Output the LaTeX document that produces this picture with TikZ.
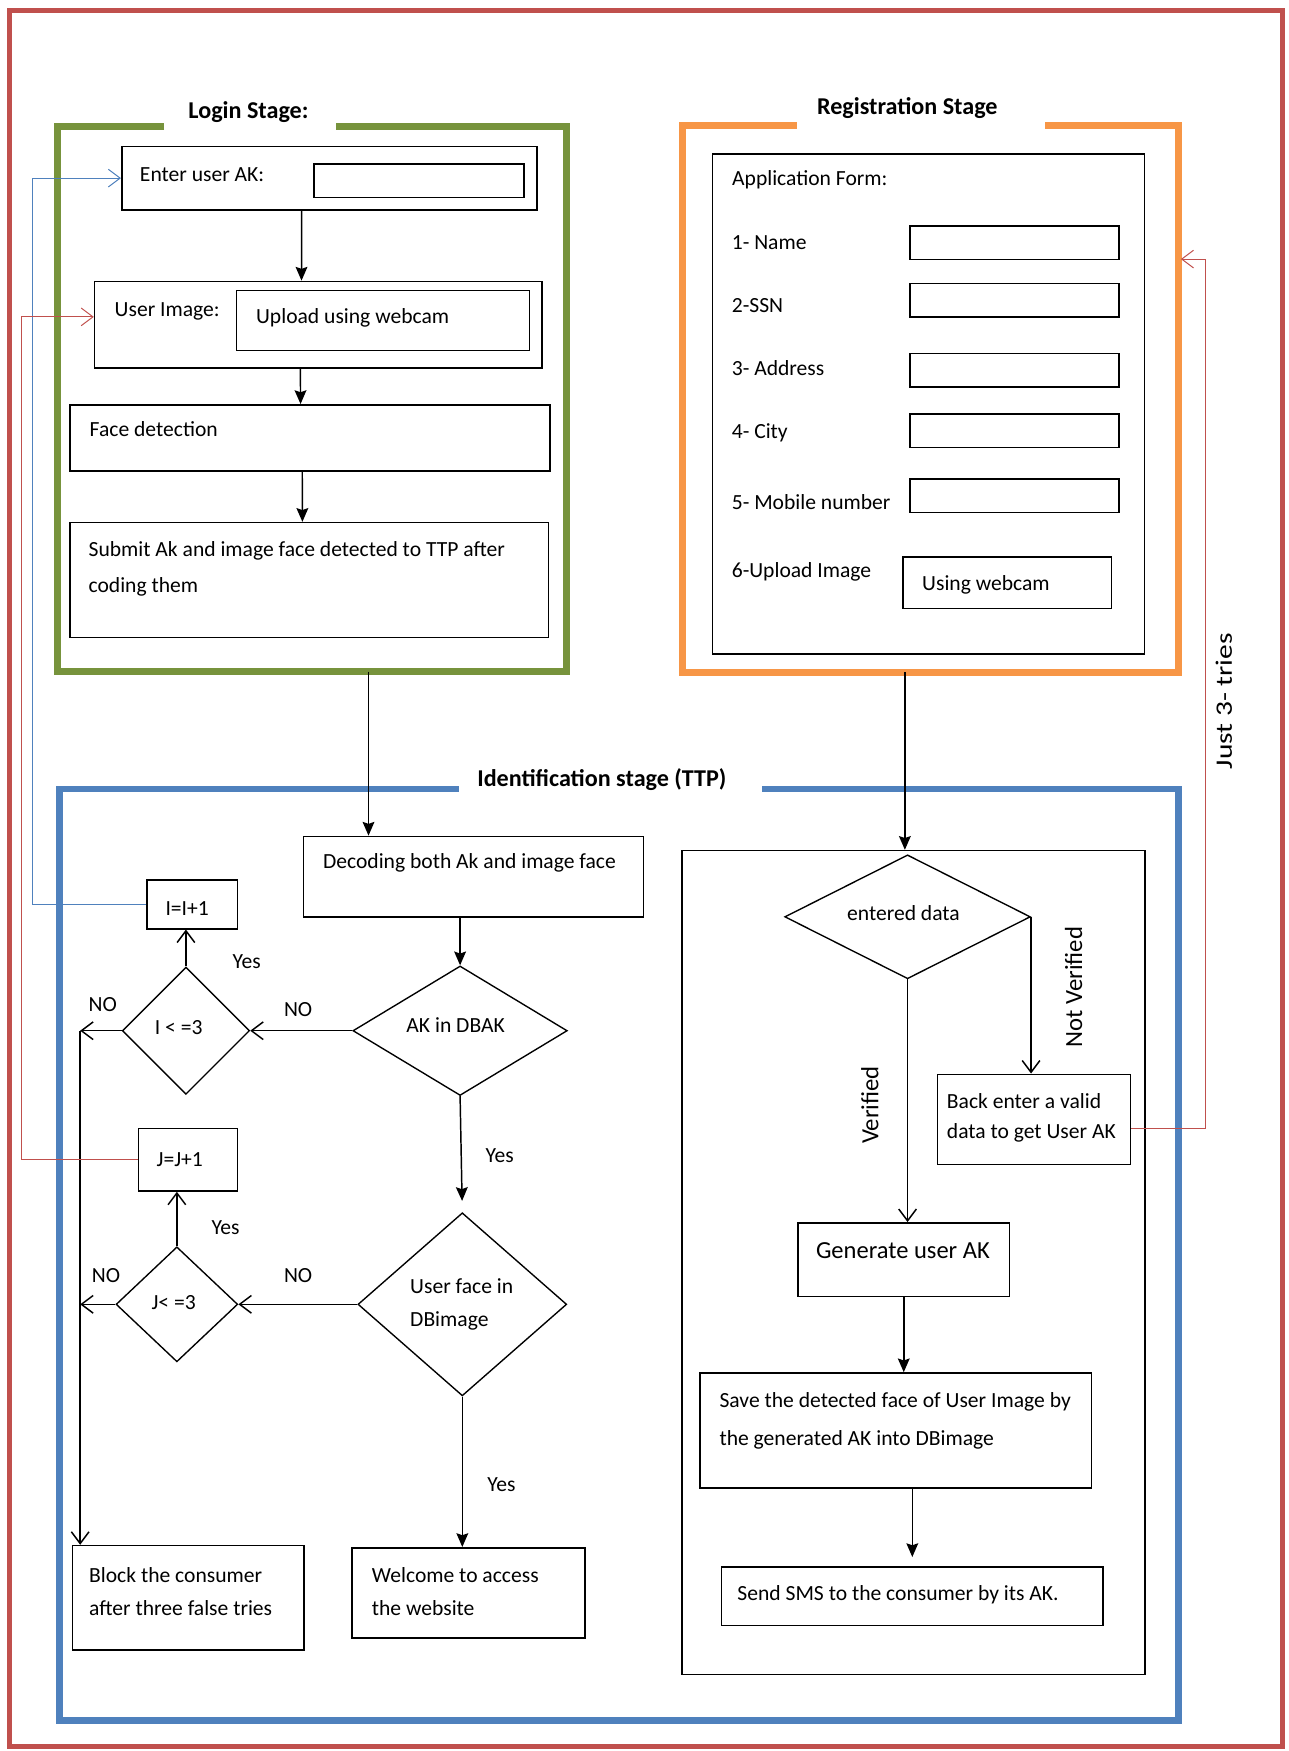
\documentclass[tikz,border=0pt]{standalone}
\usepackage{fontspec}
\setmainfont{Carlito}
\usetikzlibrary{arrows.meta,shapes.geometric,fit}
\definecolor{frameRed}{RGB}{192,80,77}
\definecolor{stageGreen}{RGB}{119,147,60}
\definecolor{stageOrange}{RGB}{247,150,70}
\definecolor{stageBlue}{RGB}{79,129,189}
\begin{document}
\begin{tikzpicture}[x=0.02cm,y=-0.02cm,font=\fontsize{11}{17}\selectfont,
	box/.style={draw,line width=0.8pt,inner sep=0pt},
	dia/.style={draw,diamond,line width=0.7pt,inner sep=0pt},
	txt/.style={anchor=west,inner sep=0pt,align=left},
	lbl/.style={inner sep=0pt},
	side/.style={inner sep=0pt,rotate=90,font=\fontsize{12.6}{14}\selectfont},
	title/.style={inner sep=0pt,font=\fontsize{12.3}{14}\selectfont\bfseries},
	stage/.style={line width=3.5pt},
	arr/.style={line width=0.75pt,-{Stealth[length=7pt,width=6pt,inset=1pt]}},
	oarr/.style={line width=0.75pt,-{Straight Barb[length=6pt,width=9pt]}},
	link/.style={line width=0.5pt,-{Straight Barb[length=6pt,width=9pt]}}]
			\useasboundingbox (0,0) rectangle (1154,1568);
			\draw[frameRed,line width=2.5pt] (8.8,9.5) rectangle (1148.5,1563.7);
			\draw[stage,stageGreen] (147,113) -| (51.6,601.5) -| (507.6,113) -- (301,113);
			\draw[stage,stageOrange] (713.6,112) -| (611.3,602) -| (1055.5,112) -- (936,112);
			\draw[stage,stageBlue] (410.6,706.5) -| (53.2,1540.4) -| (1055,706.5) -- (682,706.5);
			\node[title] (logint) at (222.5,100) {Login Stage:};
			\node[title] (regt) at (812.5,96.8) {Registration Stage};
			\node[title] (ttpt) at (539,698) {Identification stage (TTP)};
			\coordinate (loginout) at (330,601.5);
			\coordinate (regout) at (810.3,602);
			\coordinate (nocol) at (71.8,0);
			\coordinate (bluecol) at (28.7,0);
			\coordinate (redcol) at (19.2,0);
			\coordinate (triescol) at (1079.3,232);
			\coordinate (regin) at (1057.5,232);
			\node[box,fit={(109,131) (481,188)}] (enter) {};
			\node[box,fit={(281,147) (469,177)}] (akfield) {};
			\node[txt] (entert) at (125,156.7) {Enter user AK:};
			\node[box,fit={(84.7,252) (485.3,329.5)}] (uimg) {};
			\node[box,fit={(211.7,260) (474.3,314)}] (upload) {};
			\node[txt] (uimgt) at (102.4,278.5) {User Image:};
			\node[txt] (uploadt) at (229,284.6) {Upload using webcam};
			\node[box,fit={(62.6,362.5) (492.7,422)}] (face) {};
			\node[txt] (facet) at (80,384.5) {Face detection};
			\node[box,fit={(62.6,468) (491,570.7)}] (submit) {};
			\node[txt,font=\fontsize{11}{18}\selectfont] (submitt) at (79,509.5) {Submit Ak and image face detected to TTP after\\coding them};
			\draw[arr] ([xshift=-0.5cm]enter.south) -- ([xshift=-0.3cm]uimg.north);
			\draw[arr] ([xshift=-0.32cm]uimg.south) -- ([xshift=-0.17cm]face.north);
			\draw[arr] ([xshift=-0.14cm]face.south) -- ([xshift=-0.12cm]submit.north);
			\node[box,fit={(638,138) (1025,585.5)}] (appform) {};
			\node[txt] (appformt) at (655.3,160.8) {Application Form:};
			\foreach \lab/\ty/\by [count=\i] in {1- Name/216.9/217.3,2-SSN/274/268.8,3- Address/329.7/331.5,4- City/387.3/385.9,5- Mobile number/450/444}{
				\node[box,minimum width=3.74cm,minimum height=0.6cm] (field\i) at (908.5,\by) {};
				\node[txt] (fieldt\i) at (655,\ty) {\lab};}
			\node[box,fit={(808.5,498.7) (995.5,545)}] (webcam) {};
			\node[txt] (uploadimgt) at (655,512.5) {6-Upload Image};
			\node[txt] (webcamt) at (825.5,523.8) {Using webcam};
			\node[box,fit={(271.8,749) (576.4,821)}] (decode) {};
			\node[txt] (decodet) at (289,772.6) {Decoding both Ak and image face};
			\node[dia,minimum width=3.84cm,minimum height=2.32cm] (akdia) at (412,923) {};
			\node[lbl] (akdiat) at (408,917.5) {AK in DBAK};
			\node[dia,minimum width=2.28cm,minimum height=2.28cm] (idia) at (166.5,923) {};
			\node[lbl] (idiat) at (160,920) {I < =3};
			\node[box,fit={(131.5,788) (212.5,831.7)}] (ibox) {};
			\node[lbl] (iboxt) at (167.6,813.6) {I=I+1};
			\node[dia,minimum width=3.74cm,minimum height=3.28cm] (ufdia) at (414,1168) {};
			\node[txt] (ufdiat) at (367,1168) {User face in\\DBimage};
			\node[dia,minimum width=2.18cm,minimum height=2.06cm] (jdia) at (158.4,1168) {};
			\node[lbl] (jdiat) at (155.5,1166.6) {J< =3};
			\node[box,fit={(124,1010.6) (212.5,1066.5)}] (jbox) {};
			\node[lbl] (jboxt) at (161,1038) {J=J+1};
			\node[box,fit={(64.8,1384) (272.3,1477.7)}] (block) {};
			\node[txt] (blockt) at (79.5,1425) {Block the consumer\\after three false tries};
			\node[box,fit={(315,1386) (524,1466.7)}] (welcome) {};
			\node[txt] (welcomet) at (332.7,1425.5) {Welcome to access\\the website};
			\draw[arr] (loginout) -- (decode.north -| loginout);
			\draw[arr] (decode.south -| akdia.north) -- (akdia.north);
			\draw[oarr] (akdia.west) -- (idia.east);
			\draw[oarr] (idia.north) -- (ibox.south -| idia.north);
			\draw[link,stageBlue] (ibox.west) -- (ibox.west -| bluecol) |- (enter.west);
			\draw[oarr] (idia.west) -- (idia.west -| nocol);
			\draw[oarr] (idia.west -| nocol) -- (block.north -| nocol);
			\draw[arr,shorten >=0.2cm] (akdia.south) -- (ufdia.north);
			\draw[oarr] (ufdia.west) -- (jdia.east);
			\draw[oarr] (jdia.north) -- (jbox.south -| jdia.north);
			\draw[link,frameRed] (jbox.west) -- (jbox.west -| redcol) |- ([yshift=0.14cm]uimg.west);
			\draw[oarr] (jdia.west) -- (jdia.west -| nocol);
			\draw[arr] (ufdia.south) -- (welcome.north -| ufdia.south);
			\node[lbl] (yes1) at (221,861) {Yes};
			\node[lbl] (no1) at (267,904) {NO};
			\node[lbl] (no2) at (92,900) {NO};
			\node[lbl] (yes2) at (447.5,1034.6) {Yes};
			\node[lbl] (yes3) at (202,1099.5) {Yes};
			\node[lbl] (no3) at (267,1142.4) {NO};
			\node[lbl] (no4) at (95,1142) {NO};
			\node[lbl] (yes4) at (449,1329.5) {Yes};
			\node[box,fit={(610.6,761.7) (1025.3,1499.6)}] (regbox) {};
			\draw[arr] (regout) -- (regbox.north -| regout);
			\node[dia,minimum width=4.4cm,minimum height=2.22cm] (eddia) at (812.7,821) {};
			\node[lbl] (eddiat) at (809,817.5) {entered data};
			\node[box,fit={(839.6,962) (1012.4,1042.6)}] (back) {};
			\node[txt,font=\fontsize{11}{15.3}\selectfont] (backt) at (847.6,1001.4) {Back enter a valid\\data to get User AK};
			\node[box,fit={(714.6,1095) (904,1160.8)}] (gen) {};
			\node[lbl,font=\fontsize{12.5}{14}\selectfont] (gent) at (808.5,1119.7) {Generate user AK};
			\node[box,fit={(627,1229.5) (977.4,1332.4)}] (save) {};
			\node[txt,font=\fontsize{11}{19.3}\selectfont] (savet) at (644,1272) {Save the detected face of User Image by\\the generated AK into DBimage};
			\node[box,fit={(646.2,1403) (987.7,1455.7)}] (sms) {};
			\node[txt] (smst) at (660,1428) {Send SMS to the consumer by its AK.};
			\draw[oarr] (eddia.south) -- (gen.north -| eddia.south);
			\draw[oarr] (eddia.east) -- (eddia.east |- back.north);
			\draw[link,frameRed] ([yshift=-0.16cm]back.east) -| (triescol) -- (regin);
			\draw[arr] (gen.south) -- (save.north -| gen.south);
			\draw[arr,shorten >=0.16cm] (save.south -| sms.north) -- (sms.north);
			\node[side] (verified) at (779,989.5) {Verified};
			\node[side] (notverified) at (961.5,884) {Not Verified};
			\node[side,font=\fontsize{12}{14}\selectfont] (tries) at (1096,628) {\scalebox{1.25}[1]{Just 3- tries}};
\end{tikzpicture}
\end{document}
